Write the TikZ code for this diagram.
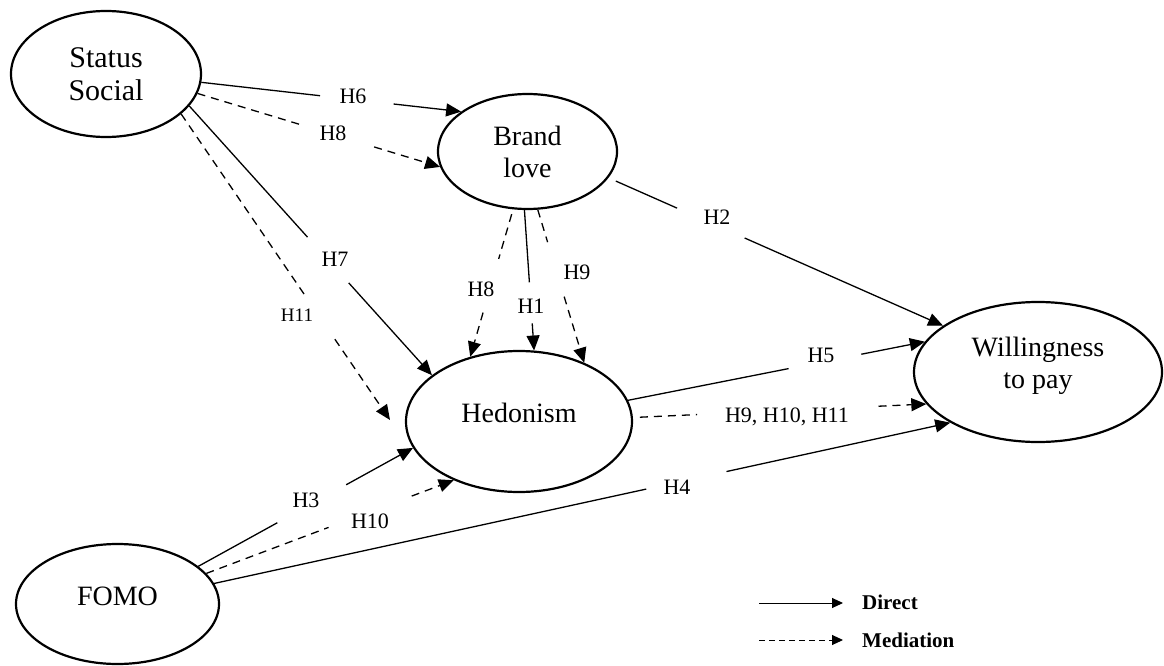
\documentclass[tikz,border=0pt]{standalone}
\usepackage{fontspec}
\setmainfont{Liberation Serif}
\usetikzlibrary{shapes.geometric,arrows.meta,calc}

% #1 line style, #2 extra options for first segment, #3 start, #4 end, #5 gap start, #6 gap end
\newcommand\gapedge[6]{%
  \draw[#1,#2] (#3) -- ($(#3)!#5!(#4)$);
  \draw[#1,tip] ($(#3)!#6!(#4)$) -- (#4);}

\tikzset{
  latent/.style={ellipse, draw, line width=2.2pt, inner sep=0pt, align=center,
                 font=\fontsize{28}{32}\selectfont},
  direct/.style={line width=1.3pt},
  medi/.style={line width=1.3pt, dash pattern=on 8pt off 6pt},
  tip/.style={-{Triangle[length=15pt,width=13pt]}},
  legtip/.style={-{Triangle[length=11pt,width=10pt]}},
  hlabel/.style={font=\fontsize{22}{26}\selectfont, inner sep=0pt},
  legtext/.style={anchor=base west, inner sep=0pt, font=\fontsize{21}{24}\selectfont\bfseries},
}

\begin{document}
\begin{tikzpicture}[x=1pt,y=-1pt]
\path[use as bounding box, fill=white] (0,0) rectangle (1164,666);

% constructs
\node[latent, minimum width=190pt, minimum height=126pt, font=\fontsize{30}{33}\selectfont] (ss) at (106,74) {Status\\Social};
\node[latent, minimum width=179pt, minimum height=115pt] (bl) at (527.5,151.5) {Brand\\love};
\node[latent, minimum width=226pt, minimum height=141pt] (hed) at (519,421.5) {\raisebox{9pt}[\height][\depth]{Hedonism}};
\node[latent, minimum width=248pt, minimum height=140pt] (wtp) at (1038,372) {\raisebox{6pt}[\height][\depth]{\begin{tabular}{@{}c@{}}Willingness\\to pay\end{tabular}}};
\node[latent, minimum width=203pt, minimum height=120pt] (fomo) at (117.5,604) {\raisebox{8pt}[\height][\depth]{FOMO}};

\coordinate (h11tip) at (390,420);

% connectors
\gapedge{direct}{}{ss.-5.4}{bl.149}{0.457}{0.74}
\gapedge{medi}{}{ss.-12.9}{bl.-170.3}{0.427}{0.728}
\gapedge{direct}{}{ss.-21}{hed.152}{0.487}{0.657}
\gapedge{medi}{}{ss.-28.3}{h11tip}{0.591}{0.736}
\gapedge{medi}{shorten <=5pt}{bl.-104.6}{hed.127.5}{0.336}{0.70}
\gapedge{direct}{}{bl.-93.4}{hed.78.9}{0.514}{0.807}
\gapedge{medi}{}{bl.-80.2}{hed.42.6}{0.212}{0.568}
\gapedge{direct}{shorten <=8pt}{bl.-18.6}{wtp.154.1}{0.205}{0.407}
\gapedge{direct}{}{hed.11.9}{wtp.165.7}{0.541}{0.786}
\gapedge{medi}{shorten <=7pt}{hed.2.6}{wtp.-164.5}{0.219}{0.837}
\gapedge{direct}{}{fomo.25.1}{hed.-166.1}{0.368}{0.689}
\gapedge{medi}{}{fomo.19.5}{hed.-138.7}{0.494}{0.83}
\gapedge{direct}{}{fomo.12}{wtp.-150.6}{0.587}{0.696}

% labels
\node[hlabel] (lh6) at (353,96) {H6};
\node[hlabel] (lh8a) at (333,133) {H8};
\node[hlabel] (lh7) at (335,259) {H7};
\node[hlabel, font=\fontsize{19}{22}\selectfont] (lh11) at (297,315) {H11};
\node[hlabel] (lh8b) at (481,289) {H8};
\node[hlabel] (lh1) at (531,306) {H1};
\node[hlabel] (lh9) at (577,272) {H9};
\node[hlabel] (lh2) at (717,217) {H2};
\node[hlabel] (lh5) at (821,355) {H5};
\node[hlabel] (lh91011) at (787,417) {H9, H10, H11};
\node[hlabel] (lh3) at (306,500) {H3};
\node[hlabel] (lh10) at (370,521) {H10};
\node[hlabel] (lh4) at (677,487) {H4};

% legend
\coordinate (lda) at (759,603);
\coordinate (ldb) at (843,603);
\coordinate (lma) at (759,640);
\coordinate (lmb) at (843,640);
\draw[line width=1pt, legtip] (lda) -- (ldb);
\draw[line width=1pt, dash pattern=on 6pt off 4pt, legtip] (lma) -- (lmb);
\node[legtext] (ldt) at (862,609) {Direct};
\node[legtext] (lmt) at (862,647) {Mediation};
\end{tikzpicture}
\end{document}
